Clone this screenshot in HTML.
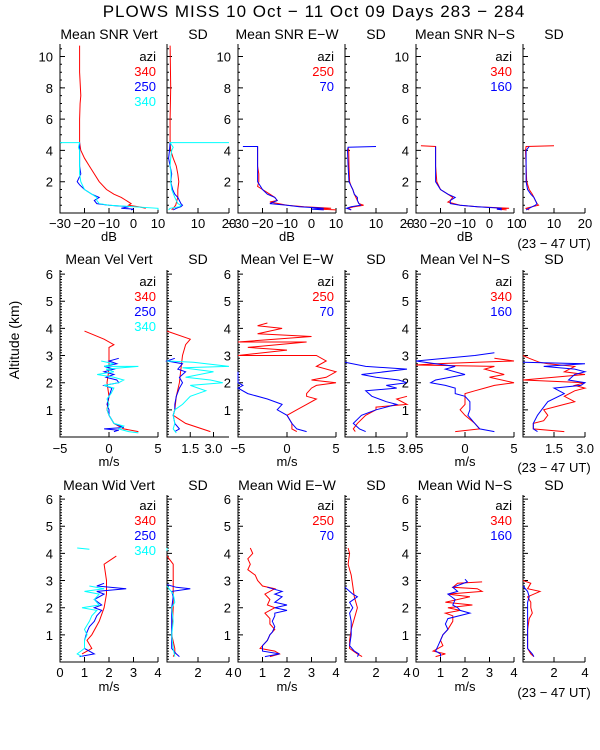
<!DOCTYPE html>
<html><head><meta charset="utf-8"><style>
html,body{margin:0;padding:0;background:#fff;}
svg{display:block;font-family:"Liberation Sans",sans-serif;}
</style></head><body>
<svg id="chart" width="600" height="750" viewBox="0 0 600 750" xmlns="http://www.w3.org/2000/svg">
<text x="314" y="17" font-size="17" letter-spacing="1" text-anchor="middle">PLOWS MISS  10 Oct − 11 Oct 09 Days 283 − 284</text>
<text transform="translate(19,340) rotate(-90)" font-size="14" text-anchor="middle">Altitude (km)</text>
</svg>
<script>
// ---- data (altitude km / value) ----
const snrVertRedAlt=[10.7,9,7.5,7,6,5,4.5,4,3.5,3,2.5,2,1.5,1.2,1,0.8,0.6,0.5,0.4,0.3];
const snrVertRedVal=[-22,-22,-21.5,-21.8,-22,-22,-22,-21.5,-20,-18,-16,-14,-11,-8,-5,-3,-1,-2,2,5];
const snrVertBlueAlt=[4.5,4,3.5,3,2.5,2,1.8,1.5,1.2,1,0.8,0.6,0.5,0.4,0.3,0.25,0.2];
const snrVertBlueVal=[-22,-22,-22,-22,-21.5,-23,-22,-20,-17,-14,-16,-15,-10,-2,-5,0,-1];
const snrVertCyanAlt=[4.5,4.5,4.2,4,3.5,3,2.5,2,1.5,1.2,1,0.8,0.6,0.5,0.4,0.3,0.2];
const snrVertCyanVal=[-30,-22,-22.5,-22,-22,-22,-22,-21.5,-20,-17,-15,-15,-14,-10,0,10,10];
const snrVertSdRedAlt=[10.7,8,6,4.5,4,3.5,3,2.5,2,1.5,1,0.8,0.5,0.3,0.2];
const snrVertSdRedVal=[1,1.2,1,1,1.2,2,3,3.5,3.8,3.5,3.5,3.2,2.8,2,1.5];
const snrVertSdBlueAlt=[4.5,4,3.5,3,2.5,2,1.5,1.2,1,0.8,0.6,0.5,0.4,0.3,0.2];
const snrVertSdBlueVal=[1,0.8,0.5,1,1.5,1.2,1.8,2.5,3.5,4,4.5,5,4.5,3,2];
const snrVertSdCyanAlt=[4.5,4.5,4.2,4,3.5,3,2.5,2,1.5,1,0.6,0.5,0.4,0.3,0.2];
const snrVertSdCyanVal=[20,1,2,1.5,1.2,1,1.3,1.2,1.5,2.5,3.5,4.5,4,1,0.5];
const snrEwRedAlt=[4.25,4,3,2.5,2,1.7,1.6,1.5,1.2,1,0.8,0.7,0.5,0.4,0.3,0.25,0.2];
const snrEwRedVal=[-22,-22,-22,-21.5,-21.5,-22,-21,-20,-17,-15,-14,-17,-10,-3,8,3,10];
const snrEwBlueAlt=[4.25,4.25,4,3,2,1.5,1.2,1,0.8,0.6,0.5,0.4,0.3,0.25,0.2];
const snrEwBlueVal=[-28,-22,-22,-22,-22,-20,-18,-15,-14,-17,-10,-5,5,0,5];
const snrEwSdRedAlt=[4.2,4,3,2,1.7,1.5,1.2,1,0.8,0.6,0.5,0.4,0.3,0.2];
const snrEwSdRedVal=[1,1.2,1.3,1.5,2,2.5,3,3.5,4,4.5,6,3,1,2];
const snrEwSdBlueAlt=[4.25,4.2,4,3,2,1.5,1.2,1,0.8,0.6,0.5,0.4,0.3,0.2];
const snrEwSdBlueVal=[10,1,0.8,1,1.3,2.5,3,4,4,4.5,5,2,0.5,2];
const snrNsRedAlt=[4.3,4.25,4,3,2,1.5,1.2,1,0.8,0.7,0.5,0.4,0.3,0.25,0.2];
const snrNsRedVal=[-28,-22,-22,-22,-21.5,-20,-17,-15,-16,-17,-12,-5,8,3,7];
const snrNsBlueAlt=[4.25,4,3,2,1.5,1.2,1,0.8,0.6,0.5,0.4,0.3,0.25,0.2];
const snrNsBlueVal=[-22,-22,-22,-22,-20,-17,-14,-16,-16,-12,-5,5,3,5];
const snrNsSdRedAlt=[4.3,4.25,4,3,2,1.5,1.2,1,0.8,0.6,0.5,0.4,0.3,0.2];
const snrNsSdRedVal=[10,1,0.8,1,1.2,2,3,3.5,4,4.5,5,3,1,2];
const snrNsSdBlueAlt=[4.25,4,3,2,1.5,1.2,1,0.8,0.6,0.5,0.4,0.3,0.2];
const snrNsSdBlueVal=[2,1,1,1,1.5,2.5,3.5,4,4.5,4,3,2,1];

const velVertRedAlt=[3.9,3.6,3.4,3.3,3.0,2.5,2.0,1.5,1.0,0.8,0.5,0.3,0.2];
const velVertRedVal=[-2.5,-0.5,0.5,0,0,0,-0.2,0,-0.2,0,0.5,1.5,3];
const velVertBlueAlt=[2.9,2.8,2.7,2.6,2.5,2.4,2.3,2.2,2.1,2.0,1.9,1.8,1.5,1.2,1,0.8,0.5,0.35,0.3,0.25,0.2];
const velVertBlueVal=[1,0,0.8,-0.5,0.5,-0.5,0.5,-0.3,0.8,1,-0.5,0.3,0,-0.2,0,0,0.5,1.5,-0.5,1,0.5];
const velVertCyanAlt=[2.8,2.7,2.6,2.6,2.5,2.4,2.3,2.2,2.1,2.0,1.9,1.8,1.6,1.4,1.2,1,0.8,0.5,0.4,0.3,0.2,0.15];
const velVertCyanVal=[-0.8,0.5,-0.5,3,-0.3,0.5,-1.2,0.5,1.5,1,-0.5,0.5,0.2,-0.2,0,-0.2,0,0.5,1.5,1,2,3];
const velVertSdRedAlt=[3.9,3.6,3.4,3,2.5,2,1.5,1,0.8,0.5,0.2];
const velVertSdRedVal=[0,1.5,1.2,1,0.9,0.8,0.6,0.5,0.4,1.2,2.8];
const velVertSdBlueAlt=[2.9,2.8,2.7,2.5,2.4,2.2,2,1.8,1.5,1.2,1,0.8,0.5,0.3,0.2];
const velVertSdBlueVal=[0.5,0,1,0.7,1.2,0.8,1,0.8,0.6,0.5,0.5,0.4,0.5,0.8,0.5];
const velVertSdCyanAlt=[2.8,2.75,2.6,2.55,2.4,2.2,2.1,2,1.9,1.7,1.5,1.2,1,0.8,0.5,0.3,0.15];
const velVertSdCyanVal=[0,1.7,4,1,3,1.2,2.8,3.6,1.5,2.5,1.5,1,0.5,0.4,0.5,0.4,0.6];
const velEwRedAlt=[4.2,4.1,4.0,3.8,3.7,3.5,3.5,3.3,3.2,3.0,3.0,2.8,2.6,2.4,2.2,2.1,2.0,1.9,1.8,1.6,1.5,1.4,1.2,1.0,0.8,0.5,0.3,0.2];
const velEwRedVal=[-2,-3,-0.5,-3,2.5,-5,2,-4,0,-5,3,4,3,5,4,2.5,5,3,2.5,2,2,3,2,1,0,0.5,0.5,1];
const velEwBlueAlt=[2.4,2.0,1.9,1.8,1.6,1.4,1.2,1,0.8,0.5,0.3,0.2];
const velEwBlueVal=[-5,-5,-4.5,-5,-4,-2,-0.5,-1,0,0.5,1,2];
const velEwSdRedAlt=[1.5,1.4,1.2,1.1,1,0.8,0.5,0.3,0.2];
const velEwSdRedVal=[3,2.5,3,1.5,1.5,1,0.6,0.4,0.5];
const velEwSdBlueAlt=[2.75,2.6,2.5,2.3,2.2,2.1,2.0,1.9,1.8,1.7,1.5,1.3,1.2,1.0,0.8,0.5,0.3,0.2];
const velEwSdBlueVal=[0,1,3,0.8,1.5,2.6,3,2,2.5,1,1.3,2,2.5,1.5,0.8,0.4,0.7,1];
const velNsRedAlt=[2.9,2.8,2.7,2.65,2.6,2.5,2.3,2.2,2.0,1.9,1.8,1.7,1.6,1.5,1.2,1,0.8,0.5,0.3,0.2];
const velNsRedVal=[3,5,-3,-5,3,2,4,2.5,5,3,2,1,0,0,0,-0.5,0,1,1.5,-1];
const velNsBlueAlt=[3.1,3.0,2.8,2.7,2.6,2.5,2.3,2.1,2.0,1.9,1.8,1.6,1.5,1.3,1,0.8,0.5,0.3,0.2];
const velNsBlueVal=[3,1,-5,-3,-1,-2,0,-3,-3.5,-2,-1,-1,0,0.5,0.5,0.3,1,1.5,3];
const velNsSdRedAlt=[3.0,2.9,2.75,2.7,2.6,2.4,2.3,2.2,2.1,2.0,1.9,1.8,1.7,1.5,1.3,1.2,1,0.8,0.6,0.5,0.3,0.2];
const velNsSdRedVal=[0,0.3,0.8,1.2,2.5,2,3,1.5,0,3,2.5,3,2.5,2,2.5,2,1,1.2,1,0.5,0.5,2];
const velNsSdBlueAlt=[2.75,2.7,2.6,2.5,2.4,2.3,2.1,2.0,1.9,1.8,1.6,1.3,1,0.8,0.5,0.3,0.2];
const velNsSdBlueVal=[0,3,1,2.5,3,2.5,2.2,3,2.8,1.5,2,1.2,0.9,0.7,0.5,0.5,0.7];

const widVertRedAlt=[3.9,3.6,3.0,2.5,2.0,1.5,1.0,0.8,0.5,0.3];
const widVertRedVal=[2.3,1.8,1.9,1.9,1.8,1.6,1.3,1.1,1.3,0.9];
const widVertBlueAlt=[2.9,2.8,2.7,2.6,2.5,2.3,2.1,2.0,1.9,1.7,1.5,1.3,1.1,0.8,0.5,0.3,0.2];
const widVertBlueVal=[1.8,1.5,2.7,1.5,1.8,1.4,1.7,1.4,1.7,1.5,1.4,1.2,1.1,1.0,1.0,1.4,0.8];
const widVertCyanAlt=[4.2,4.15,null,2.8,2.7,2.6,2.5,2.3,2.1,2.0,1.9,1.7,1.5,1.2,1,0.8,0.5,0.3,0.2];
const widVertCyanVal=[0.7,1.2,null,1.2,1.8,1.0,1.6,1.4,1.6,0.9,1.5,1.3,1.2,1.0,1.1,1.0,1.0,0.7,0.9];
const widVertSdRedAlt=[3.9,3.6,3.0,2.0,1.0,0.5,0.3,0.2];
const widVertSdRedVal=[0,0.4,0.4,0.4,0.3,0.5,0.5,0.4];
const widVertSdBlueAlt=[2.85,2.75,2.7,2.6,2.4,2.0,1.5,1.0,0.5,0.3,0.2];
const widVertSdBlueVal=[0,0.6,1.5,0.3,0.4,0.3,0.3,0.3,0.3,0.6,0.8];
const widVertSdCyanAlt=[4.2,4.1,null,2.8,2.5,2.2,2.0,1.5,1.0,0.5,0.2];
const widVertSdCyanVal=[0,0,null,0,0.4,0.5,0.3,0.4,0.3,0.4,0.5];
const widEwRedAlt=[4.2,4.0,3.8,3.6,3.4,3.2,3.0,2.8,2.7,2.5,2.3,2.1,2.0,1.8,1.6,1.4,1.2,1.0,0.8,0.6,0.5,0.4,0.3,0.2];
const widEwRedVal=[0.5,0.6,0.4,0.5,0.4,0.7,0.8,1.0,1.5,1.1,1.3,1.2,1.5,1.1,1.3,1.3,1.5,1.3,1.2,1.0,0.9,1.5,1.7,1.3];
const widEwBlueAlt=[2.75,2.6,2.5,2.4,2.2,2.1,2.0,1.9,1.8,1.7,1.5,1.3,1.1,1.0,0.8,0.6,0.4,0.3,0.2];
const widEwBlueVal=[1.2,1.8,1.5,1.8,1.5,2.0,1.5,2.0,1.5,1.5,1.4,1.5,1.4,1.3,1.2,1.0,1.0,1.7,1.1];
const widEwSdRedAlt=[4.2,4.0,3.6,3.2,2.8,2.4,2.0,1.6,1.2,0.8,0.5,0.3,0.2];
const widEwSdRedVal=[0.2,0.3,0.2,0.4,0.5,0.6,0.8,0.6,0.4,0.3,0.3,0.8,1.1];
const widEwSdBlueAlt=[2.75,2.5,2.4,2.2,2.0,1.8,1.5,1.0,0.6,0.4,0.3,0.2];
const widEwSdBlueVal=[0,0.5,0.8,0.3,0.5,0.3,0.4,0.4,0.3,0.6,0.9,0.8];
const widNsRedAlt=[2.95,2.9,2.75,2.7,2.6,2.5,2.4,2.2,2.1,2.0,1.9,1.8,1.7,1.5,1.2,1.0,0.8,0.6,0.5,0.4,0.3,0.2];
const widNsRedVal=[2.7,1.7,1.5,2.5,2.7,1.3,2.2,1.2,2.3,1.3,1.8,1.2,1.5,1.5,1.3,1.1,1.0,1.1,0.9,0.7,1.2,0.8];
const widNsBlueAlt=[3.05,2.95,2.75,2.6,2.5,2.3,2.1,2.0,1.9,1.8,1.6,1.4,1.2,1.0,0.8,0.6,0.4,0.3,0.2];
const widNsBlueVal=[2.0,2.1,1.5,1.7,1.3,1.6,1.5,1.7,1.8,2.2,1.3,1.2,1.3,1.1,1.0,0.9,0.8,1.0,1.0];
const widNsSdRedAlt=[3.0,2.9,2.7,2.6,2.4,2.2,2.0,1.8,1.6,1.2,0.8,0.5,0.3,0.2];
const widNsSdRedVal=[0,0.5,0.3,1.1,0.3,0.5,0.5,0.6,0.4,0.3,0.3,0.3,0.5,0.7];
const widNsSdBlueAlt=[2.8,2.6,2.4,2.2,2.0,1.6,1.2,0.8,0.5,0.3,0.2];
const widNsSdBlueVal=[0,0.3,0.4,0.3,0.3,0.3,0.3,0.3,0.3,0.6,0.7];

const snrTicks=[-30,-20,-10,0,10], snrSdTicks=[10,20];
const velTicks=[-5,0,5], velSdTicks=[1.5,3.0], velSdTickLabels=['1.5','3.0'];
const widTicks=[0,1,2,3,4], widSdTicks=[2,4];
const row1YTicks=[2,4,6,8,10], row23YTicks=[1,2,3,4,5,6];

// ---- layout ----
const NS="http://www.w3.org/2000/svg";
const svg=document.getElementById('chart');
const RED="#ff0000",BLUE="#0000ff",CYAN="#00ffff";
const cols=[[60,158],[167,229],[238,336],[345,407],[416,514],[523,585]];
const rows=[{top:44,bot:213,ymax:10.8,yt:row1YTicks,minor:0.5,title:39,tick:228,unit:241,ut:248,leg:61},
            {top:270,bot:437,ymax:6.15,yt:row23YTicks,minor:0.1,title:264,tick:453,unit:466,ut:472,leg:286},
            {top:495,bot:662,ymax:6.15,yt:row23YTicks,minor:0.1,title:490,tick:677,unit:691,ut:697,leg:510}];
function mk(tag,attrs,parent){const e=document.createElementNS(NS,tag);for(const k in attrs)e.setAttribute(k,attrs[k]);(parent||svg).appendChild(e);return e;}
function txt(s,x,y,size,anchor,fill,parent){const t=mk('text',{x:x,y:y,'font-size':size,'text-anchor':anchor||'middle',fill:fill||'#000'},parent);t.textContent=s;return t;}

function panel(r,c,xmin,xmax,xticks,xlabels,title,unit,series,legend,ylabels,ut,name){
  const R=rows[r],[x0,x1]=cols[c];
  const g=mk('g',{});
  
  
  const sx=v=>x0+(v-xmin)/(xmax-xmin)*(x1-x0);
  const sy=a=>R.bot-a/R.ymax*(R.bot-R.top);
  const ax=mk('path',{d:`M${x0},${R.top}V${R.bot}H${x1}`,stroke:'#000','stroke-width':1,fill:'none'},g);
  
  
  let d='';
  for(let a=R.minor;a<R.ymax;a+=R.minor){const y=sy(a).toFixed(1);d+=`M${x0},${y}h2`;}
  R.yt.forEach(a=>{d+=`M${x0},${sy(a)}h5`;});
  xticks.forEach(v=>{d+=`M${sx(v)},${R.bot}v-5`;});
  mk('path',{d:d,stroke:'#000','stroke-width':1},g);
  if(ylabels)R.yt.forEach(a=>{const t=txt(String(a),x0-7,sy(a)+5,13,'end','#000',g);});
  xticks.forEach((v,i)=>{const lab=xlabels?xlabels[i]:String(v).replace('-','−');const t=txt(lab,sx(v),R.tick,13,'middle','#000',g);});
  const tt=txt(title,(x0+x1)/2,R.title,14,'middle','#000',g);
  
  
  if(unit){const u=txt(unit,(x0+x1)/2,R.unit,13,'middle','#000',g);}
  if(ut){const u=txt('(23 − 47 UT)',554,R.ut,13,'middle','#000',g);}
  series.forEach(s=>{
    let dd='',pen=false;
    for(let i=0;i<s.alt.length;i++){
      if(s.alt[i]===null){pen=false;continue;}
      const x=Math.max(x0,Math.min(x1,sx(s.val[i]))),y=sy(s.alt[i]);
      dd+=(pen?'L':'M')+x.toFixed(1)+','+y.toFixed(1);pen=true;
    }
    const p=mk('path',{d:dd,stroke:s.col,'stroke-width':1,fill:'none'},g);
    
    
  });
  if(legend){
    const items=[['azi','#000']].concat(legend);
    items.forEach((it,i)=>{const t=txt(it[0],x1-2,R.leg+i*15,13,'end',it[1],g);});
  }
}
const S=(alt,val,col)=>({alt:alt,val:val,col:col});
// row 1
panel(0,0,-30,10,snrTicks,null,'Mean SNR Vert','dB',[S(snrVertRedAlt,snrVertRedVal,RED),S(snrVertBlueAlt,snrVertBlueVal,BLUE),S(snrVertCyanAlt,snrVertCyanVal,CYAN)],[['340',RED],['250',BLUE],['340',CYAN]],true,false,'snr-vert-panel');
panel(0,1,0,20,snrSdTicks,null,'SD','',[S(snrVertSdRedAlt,snrVertSdRedVal,RED),S(snrVertSdBlueAlt,snrVertSdBlueVal,BLUE),S(snrVertSdCyanAlt,snrVertSdCyanVal,CYAN)],null,false,false,'snr-vert-sd-panel');
panel(0,2,-30,10,snrTicks,null,'Mean SNR E−W','dB',[S(snrEwRedAlt,snrEwRedVal,RED),S(snrEwBlueAlt,snrEwBlueVal,BLUE)],[['250',RED],['70',BLUE]],true,false,'snr-ew-panel');
panel(0,3,0,20,snrSdTicks,null,'SD','',[S(snrEwSdRedAlt,snrEwSdRedVal,RED),S(snrEwSdBlueAlt,snrEwSdBlueVal,BLUE)],null,false,false,'snr-ew-sd-panel');
panel(0,4,-30,10,snrTicks,null,'Mean SNR N−S','dB',[S(snrNsRedAlt,snrNsRedVal,RED),S(snrNsBlueAlt,snrNsBlueVal,BLUE)],[['340',RED],['160',BLUE]],true,false,'snr-ns-panel');
panel(0,5,0,20,[0,10,20],null,'SD','',[S(snrNsSdRedAlt,snrNsSdRedVal,RED),S(snrNsSdBlueAlt,snrNsSdBlueVal,BLUE)],null,false,true,'snr-ns-sd-panel');
// row 2
panel(1,0,-5,5,velTicks,null,'Mean Vel Vert','m/s',[S(velVertRedAlt,velVertRedVal,RED),S(velVertBlueAlt,velVertBlueVal,BLUE),S(velVertCyanAlt,velVertCyanVal,CYAN)],[['340',RED],['250',BLUE],['340',CYAN]],true,false,'vel-vert-panel');
panel(1,1,0,4,velSdTicks,velSdTickLabels,'SD','',[S(velVertSdRedAlt,velVertSdRedVal,RED),S(velVertSdBlueAlt,velVertSdBlueVal,BLUE),S(velVertSdCyanAlt,velVertSdCyanVal,CYAN)],null,false,false,'vel-vert-sd-panel');
panel(1,2,-5,5,velTicks,null,'Mean Vel E−W','m/s',[S(velEwRedAlt,velEwRedVal,RED),S(velEwBlueAlt,velEwBlueVal,BLUE)],[['250',RED],['70',BLUE]],true,false,'vel-ew-panel');
panel(1,3,0,3,velSdTicks,velSdTickLabels,'SD','',[S(velEwSdRedAlt,velEwSdRedVal,RED),S(velEwSdBlueAlt,velEwSdBlueVal,BLUE)],null,false,false,'vel-ew-sd-panel');
panel(1,4,-5,5,velTicks,null,'Mean Vel N−S','m/s',[S(velNsRedAlt,velNsRedVal,RED),S(velNsBlueAlt,velNsBlueVal,BLUE)],[['340',RED],['160',BLUE]],true,false,'vel-ns-panel');
panel(1,5,0,3,velSdTicks,velSdTickLabels,'SD','',[S(velNsSdRedAlt,velNsSdRedVal,RED),S(velNsSdBlueAlt,velNsSdBlueVal,BLUE)],null,false,true,'vel-ns-sd-panel');
// row 3
panel(2,0,0,4,widTicks,null,'Mean Wid Vert','m/s',[S(widVertRedAlt,widVertRedVal,RED),S(widVertBlueAlt,widVertBlueVal,BLUE),S(widVertCyanAlt,widVertCyanVal,CYAN)],[['340',RED],['250',BLUE],['340',CYAN]],true,false,'wid-vert-panel');
panel(2,1,0,4,widSdTicks,null,'SD','',[S(widVertSdRedAlt,widVertSdRedVal,RED),S(widVertSdBlueAlt,widVertSdBlueVal,BLUE),S(widVertSdCyanAlt,widVertSdCyanVal,CYAN)],null,false,false,'wid-vert-sd-panel');
panel(2,2,0,4,widTicks,null,'Mean Wid E−W','m/s',[S(widEwRedAlt,widEwRedVal,RED),S(widEwBlueAlt,widEwBlueVal,BLUE)],[['250',RED],['70',BLUE]],true,false,'wid-ew-panel');
panel(2,3,0,4,widSdTicks,null,'SD','',[S(widEwSdRedAlt,widEwSdRedVal,RED),S(widEwSdBlueAlt,widEwSdBlueVal,BLUE)],null,false,false,'wid-ew-sd-panel');
panel(2,4,0,4,widTicks,null,'Mean Wid N−S','m/s',[S(widNsRedAlt,widNsRedVal,RED),S(widNsBlueAlt,widNsBlueVal,BLUE)],[['340',RED],['160',BLUE]],true,false,'wid-ns-panel');
panel(2,5,0,4,widSdTicks,null,'SD','',[S(widNsSdRedAlt,widNsSdRedVal,RED),S(widNsSdBlueAlt,widNsSdBlueVal,BLUE)],null,false,true,'wid-ns-sd-panel');
</script>
</body></html>
